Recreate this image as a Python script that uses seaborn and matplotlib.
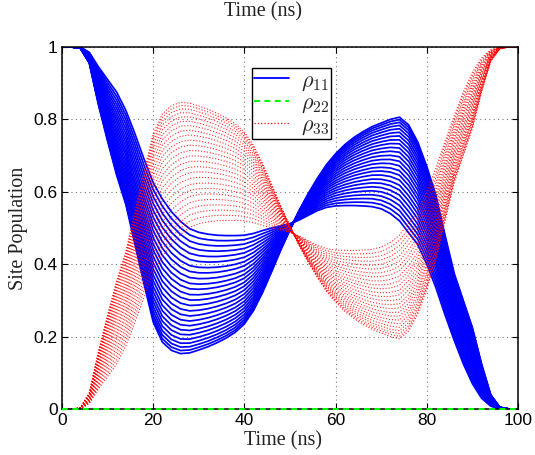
import numpy as np
import pandas as pd
import matplotlib
matplotlib.use('Agg')
import matplotlib.pyplot as plt
from matplotlib.lines import Line2D
from matplotlib.ticker import FuncFormatter
import seaborn as sns

# sample times (ns), every 2 ns
time_ns = np.linspace(0, 100, 51)

# rho11 of the two bounding curves of the family
rho11_inner = [1.0, 1.0, 1.0, 0.985, 0.945, 0.91, 0.875, 0.825, 0.76, 0.69,
               0.625, 0.58, 0.545, 0.518, 0.498, 0.488, 0.483, 0.48, 0.479, 0.479,
               0.48, 0.485, 0.493, 0.50, 0.506, 0.512, 0.522, 0.535, 0.548, 0.557,
               0.561, 0.562, 0.562, 0.561, 0.559, 0.553, 0.54, 0.52, 0.487, 0.455,
               0.40, 0.335, 0.26, 0.19, 0.125, 0.07, 0.03, 0.008, 0.0, 0.0, 0.0]
rho11_outer = [1.0, 1.0, 0.997, 0.955, 0.84, 0.74, 0.645, 0.565, 0.455, 0.345,
               0.24, 0.185, 0.162, 0.153, 0.155, 0.163, 0.172, 0.183, 0.196, 0.212,
               0.235, 0.272, 0.322, 0.38, 0.44, 0.495, 0.548, 0.595, 0.637, 0.675,
               0.705, 0.73, 0.75, 0.766, 0.78, 0.79, 0.80, 0.806, 0.785, 0.738,
               0.67, 0.59, 0.48, 0.375, 0.30, 0.225, 0.125, 0.04, 0.005, 0.0, 0.0]

# rho11 of every curve at t = 28 ns (where the family is most spread out)
rho11_at_28ns = [0.155, 0.163, 0.172, 0.182, 0.193, 0.205, 0.217, 0.230, 0.243,
                 0.257, 0.271, 0.286, 0.301, 0.316, 0.332, 0.347, 0.363, 0.380,
                 0.396, 0.413, 0.430, 0.447, 0.464, 0.481, 0.498]

rho22 = np.zeros(len(time_ns))

inner = np.array(rho11_inner)
outer = np.array(rho11_outer)
i28 = 14
rows11, rows33 = [], []
for k, v in enumerate(rho11_at_28ns):
    w = (inner[i28] - v) / (inner[i28] - outer[i28])
    r11 = inner + w * (outer - inner)
    r33 = 1 - r11 - rho22  # population conservation
    rows11.append(pd.DataFrame({'t': time_ns, 'p': r11, 'curve': k}))
    rows33.append(pd.DataFrame({'t': time_ns, 'p': r33, 'curve': k}))
df11 = pd.concat(rows11)
df33 = pd.concat(rows33)

sns.set_theme(style='ticks')
plt.rcParams['font.family'] = ['Liberation Sans', 'DejaVu Sans']
plt.rcParams['mathtext.fontset'] = 'cm'

fig = plt.figure(figsize=(5.35, 4.55), dpi=100)
ax = fig.add_axes([62 / 535, 46 / 455, 456 / 535, 362 / 455])

sns.lineplot(data=df11, x='t', y='p', units='curve', estimator=None,
             color='#0000ff', lw=1.25, legend=False, ax=ax)
sns.lineplot(x=time_ns, y=rho22, color='#00ff00', lw=1.5,
             linestyle=(0, (2.8, 2.2)), zorder=3, clip_on=False, ax=ax)
sns.lineplot(data=df33, x='t', y='p', units='curve', estimator=None,
             color='#ff0000', lw=0.8, linestyle=':', alpha=0.85,
             legend=False, ax=ax)

ax.set_xlim(0, 100)
ax.set_ylim(0, 1)
ax.set_xticks([0, 20, 40, 60, 80, 100])
ax.set_yticks([0, 0.2, 0.4, 0.6, 0.8, 1])
ax.yaxis.set_major_formatter(FuncFormatter(lambda v, p: '%g' % v))
ax.tick_params(direction='in', length=4, width=0.8, top=True, right=True,
               labelsize=12.5, colors='black', pad=3)
for s in ax.spines.values():
    s.set_linewidth(1.1)
    s.set_color('black')
ax.grid(True, linestyle=(0, (1, 3)), color='#777777', lw=0.8)

serif = ['Liberation Serif', 'DejaVu Serif']
ax.set_xlabel('Time (ns)', family=serif, fontsize=14.5, color='#222222')
ax.set_ylabel('Site Population', family=serif, fontsize=14.5, color='#222222')
ax.xaxis.set_label_coords(0.485, -0.062)
ax.yaxis.set_label_coords(-0.075, 0.5)
fig.text(0.4925, 1 - 12 / 455, 'Time (ns)', family=serif, fontsize=14.5,
         color='#222222', ha='center', va='center')

handles = [Line2D([], [], color='#0000ff', lw=1.3),
           Line2D([], [], color='#00ff00', lw=1.5, linestyle=(0, (2.8, 2.2))),
           Line2D([], [], color='#ff0000', lw=0.9, linestyle=':')]
leg = ax.legend(handles, [r'$\rho_{11}$', r'$\rho_{22}$', r'$\rho_{33}$'],
                loc='upper center', bbox_to_anchor=(0.503, 0.942), fontsize=16,
                handlelength=1.6, handletextpad=0.5, frameon=True,
                fancybox=False, framealpha=1, edgecolor='black',
                borderpad=0.1, labelspacing=0.0, borderaxespad=0)
leg.get_frame().set_linewidth(1.0)

fig.savefig('out.png', dpi=100)
